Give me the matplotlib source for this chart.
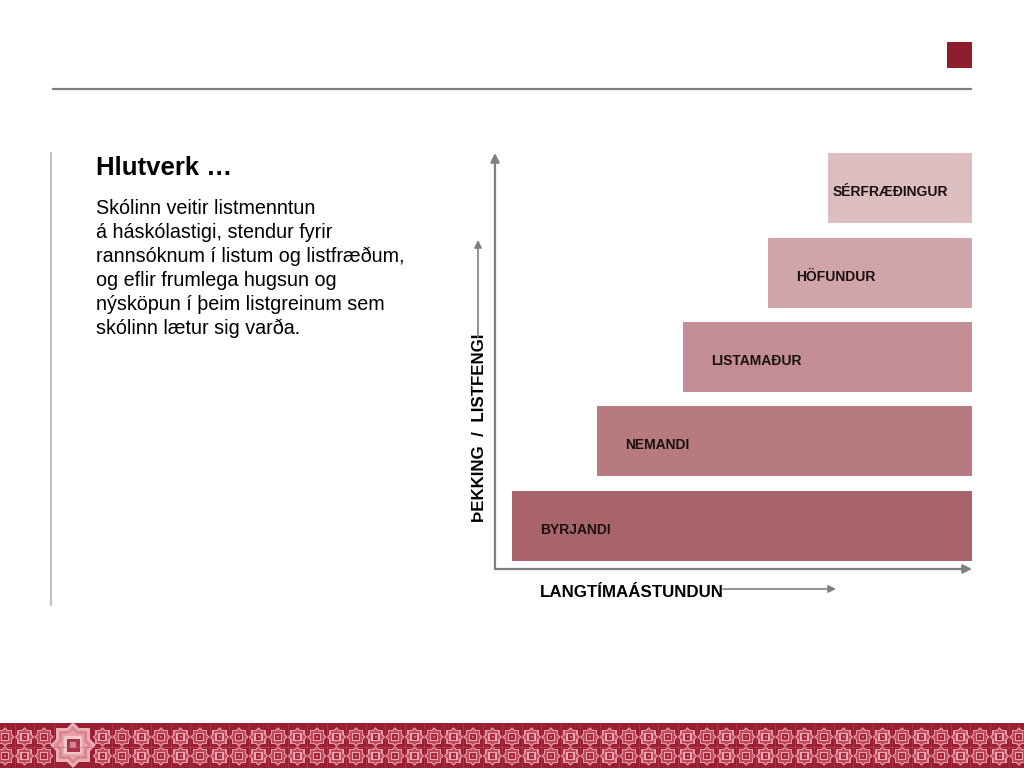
import matplotlib
matplotlib.use("Agg")
import matplotlib.pyplot as plt
from matplotlib.patches import Polygon, Rectangle
import numpy as np

plt.rcParams['font.family'] = ['Liberation Sans', 'DejaVu Sans']

# ---- data ----
levels = ["BYRJANDI", "NEMANDI", "LISTAMAÐUR", "HÖFUNDUR", "SÉRFRÆÐINGUR"]
starts = [3.6, 21.4, 39.4, 57.2, 69.8]
ends = [100, 100, 100, 100, 100]
bar_colors = ["#A9636B", "#B67A7F", "#C28E93", "#CFA5A9", "#DCBDC0"]
y_label = "ÞEKKING  /  LISTFENGI"
x_label = "LANGTÍMAÁSTUNDUN"
title = "Hlutverk …"
body_lines = [
    "Skólinn veitir listmenntun",
    "á háskólastigi, stendur fyrir",
    "rannsóknum í listum og listfræðum,",
    "og eflir frumlega hugsun og",
    "nýsköpun í þeim listgreinum sem",
    "skólinn lætur sig varða.",
]

GRAY = "#7f7f7f"
RED = "#8E1E2C"

fig = plt.figure(figsize=(10.24, 7.68), dpi=100)
bg = fig.add_axes([0, 0, 1, 1], zorder=0)
bg.set_xlim(0, 1024)
bg.set_ylim(768, 0)
bg.axis('off')

# header decorations
bg.add_patch(Rectangle((947, 42), 25, 26, color=RED, lw=0))
bg.plot([52, 972], [89, 89], color=GRAY, lw=1.6, solid_capstyle='butt')
bg.plot([51, 51], [153, 605], color="#b5b5b5", lw=1.2)

# text block
bg.text(96, 175, title, fontsize=18.5, fontweight='bold', va='baseline', ha='left', color='black')
for i, line in enumerate(body_lines):
    bg.text(96, 214 + 24 * i, line, fontsize=14.2, va='baseline', ha='left', color='black')


# bottom band with ornaments
def star(cx, cy, r_sq, r_dia):
    a = [(cx - r_sq, cy - r_sq), (cx + r_sq, cy - r_sq), (cx + r_sq, cy + r_sq), (cx - r_sq, cy + r_sq)]
    b = [(cx, cy - r_dia), (cx + r_dia, cy), (cx, cy + r_dia), (cx - r_dia, cy)]
    return a, b


bg.add_patch(Rectangle((0, 723), 1024, 45, color="#9A1F33", lw=0))
bg.plot([0, 1024], [746.5, 746.5], color="#c86070", lw=0.6, alpha=0.6)
xs = np.arange(5, 1030, 19.5)
for k, cx in enumerate(xs):
    if 52 < cx < 95:
        continue
    bg.plot([cx + 9.75, cx + 9.75], [723, 768], color="#c86070", lw=0.5, alpha=0.5)
    for cy in (737, 756):
        a, b = star(cx, cy, 7.3, 9.8)
        bg.add_patch(Polygon(a, closed=True, fc="#E89AA4", ec='none'))
        bg.add_patch(Polygon(b, closed=True, fc="#E89AA4", ec='none'))
        a, b = star(cx, cy, 5.9, 8.0)
        bg.add_patch(Polygon(a, closed=True, fc="#BC4A5C", ec='none'))
        bg.add_patch(Polygon(b, closed=True, fc="#BC4A5C", ec='none'))
        bg.add_patch(Rectangle((cx - 4.3, cy - 4.3), 8.6, 8.6, fc="#EDA8B0", ec='none'))
        bg.add_patch(Rectangle((cx - 2.8, cy - 2.8), 5.6, 5.6, fc="#A8283C", ec='none'))
        bg.add_patch(Rectangle((cx - 1.0, cy - 1.0), 2.0, 2.0, fc="#D27080", ec='none'))

cx, cy = 73, 745
for (rs, rd, col) in [(17, 23, "#EBB0B6"), (14, 19, "#D98791"), (11, 15, "#E8A2AA")]:
    a, b = star(cx, cy, rs, rd)
    bg.add_patch(Polygon(a, closed=True, fc=col, ec='none'))
    bg.add_patch(Polygon(b, closed=True, fc=col, ec='none'))
bg.add_patch(Rectangle((cx - 9, cy - 9), 18, 18, fc="#F3C8CC", ec='none'))
bg.add_patch(Rectangle((cx - 6.5, cy - 6.5), 13, 13, fc="#A8344A", ec='none'))
bg.add_patch(Rectangle((cx - 3, cy - 3), 6, 6, fc="#D98791", ec='none'))

# ---- staircase chart ----
ax = fig.add_axes([495 / 1024, (768 - 569) / 768, 477 / 1024, 416 / 768], zorder=1)
ax.patch.set_alpha(0)
ypos = np.arange(len(levels))
widths = [e - s for s, e in zip(starts, ends)]
ax.barh(ypos, widths, left=starts, height=0.83, color=bar_colors, lw=0)
ax.set_xlim(0, 100)
ax.set_ylim(-0.514, 4.419)
for s in ax.spines.values():
    s.set_visible(False)
ax.set_xticks([])
ax.set_yticks([])

label_dx = [28, 28, 28, 28, 5]
for i, (lab, s) in enumerate(zip(levels, starts)):
    ax.annotate(lab, xy=(s, i), xytext=(label_dx[i], -8), textcoords='offset pixels',
                fontsize=10, fontweight='bold', va='baseline', ha='left', color='#1a1010')

arrow_kw = dict(arrowstyle='-|>', color=GRAY, lw=1.6, mutation_scale=13, shrinkA=0, shrinkB=0)
ax.annotate('', xy=(0, 1), xytext=(0, 0), xycoords='axes fraction', arrowprops=arrow_kw, annotation_clip=False)
ax.annotate('', xy=(1, 0), xytext=(0, 0), xycoords='axes fraction', arrowprops=arrow_kw, annotation_clip=False)

# axis labels with arrows
bg.text(479, 428, y_label, rotation=90, fontsize=12.2, fontweight='bold', ha='center', va='center', color='black')
bg.annotate('', xy=(478, 240), xytext=(478, 337), arrowprops=dict(arrowstyle='-|>', color=GRAY, lw=1.2,
                                                                 mutation_scale=11, shrinkA=0, shrinkB=0))
bg.text(540, 597, x_label, fontsize=12.2, fontweight='bold', ha='left', va='baseline', color='black')
bg.annotate('', xy=(836, 589), xytext=(723, 589), arrowprops=dict(arrowstyle='-|>', color=GRAY, lw=1.2,
                                                                 mutation_scale=11, shrinkA=0, shrinkB=0))

fig.savefig("out.png", dpi=100)
